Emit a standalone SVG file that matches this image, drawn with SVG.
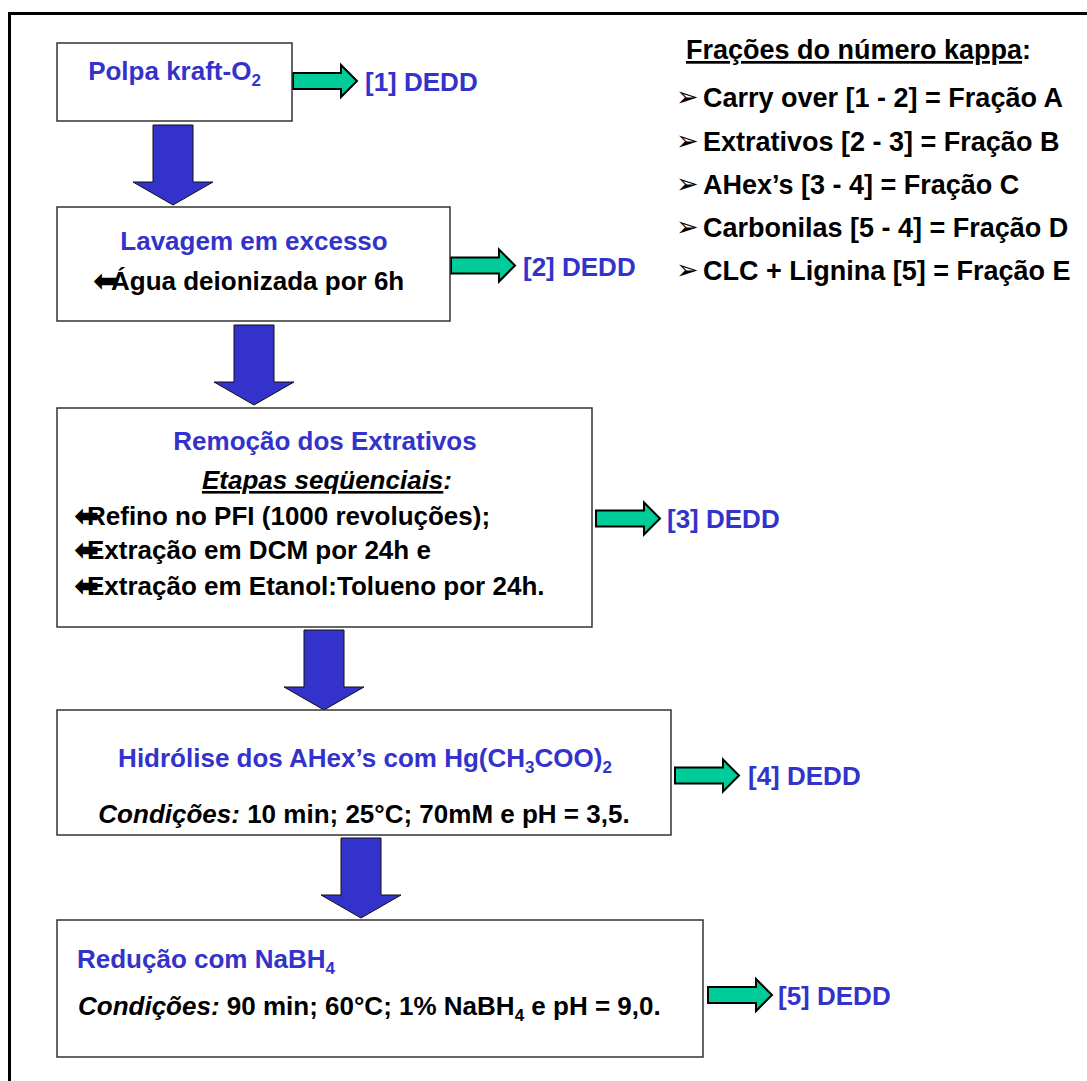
<svg xmlns="http://www.w3.org/2000/svg" xmlns:xlink="http://www.w3.org/1999/xlink" width="1087" height="1081" viewBox="0 0 1087 1081">
<style>
.box{fill:#fff;stroke:#333;stroke-width:1.5}
.t{font-family:"Liberation Sans",Arial,sans-serif;font-weight:bold;font-size:26px}
.lg{font-size:27px}
.blue{fill:#3333CC}
.blk{fill:#000}
.sub{font-size:17px}
.bul{font-family:"DejaVu Sans",sans-serif;font-weight:bold;font-size:30px;fill:#000}
.lb{font-family:"DejaVu Sans",sans-serif;font-size:27px;fill:#000}
.garrow{fill:#00CC99;stroke:#000;stroke-width:2;stroke-linejoin:miter}
.barrow{fill:#3333CC;stroke:#111;stroke-width:1}
</style>
<defs>
<path id="ga" d="M0,-8 H48 V-16 L64,0 L48,16 V8 H0 Z"/>
<path id="ba" d="M-20,0 H20 V57 H40 L0,80 L-40,57 H-20 Z"/>
</defs>
<rect x="9.5" y="13.5" width="1100" height="1100" fill="none" stroke="#000" stroke-width="3"/>

<g id="connectors">
<use xlink:href="#ba" class="barrow" x="173" y="125"/>
<use xlink:href="#ba" class="barrow" x="254" y="325"/>
<use xlink:href="#ba" class="barrow" x="324" y="630"/>
<use xlink:href="#ba" class="barrow" x="361" y="838"/>
<use xlink:href="#ga" class="garrow" x="293" y="81"/>
<use xlink:href="#ga" class="garrow" x="451" y="265.5"/>
<use xlink:href="#ga" class="garrow" x="596" y="518.5"/>
<use xlink:href="#ga" class="garrow" x="675" y="775.5"/>
<use xlink:href="#ga" class="garrow" x="708" y="995"/>
</g>

<g id="node-1">
<rect class="box" x="57" y="43" width="235" height="78"/>
<text class="t blue" x="174.5" y="80" text-anchor="middle">Polpa kraft-O<tspan class="sub" dy="6">2</tspan></text>
</g>

<g id="node-2">
<rect class="box" x="57" y="207" width="393" height="114"/>
<text class="t blue" x="254" y="250" text-anchor="middle">Lavagem em excesso</text>
<text class="bul" x="93" y="291">⬅</text>
<text class="t blk" x="111" y="290">Água deionizada por 6h</text>
</g>

<g id="node-3">
<rect class="box" x="57" y="408" width="535" height="219"/>
<text class="t blue" x="325" y="450" text-anchor="middle">Remoção dos Extrativos</text>
<text class="t blk" x="327" y="489" text-anchor="middle" font-style="italic"><tspan text-decoration="underline">Etapas seqüenciais</tspan>:</text>
<text class="bul" x="74" y="526">⬅</text>
<text class="t blk" x="87" y="525">Refino no PFI (1000 revoluções);</text>
<text class="bul" x="74" y="560">⬅</text>
<text class="t blk" x="87" y="559">Extração em DCM por 24h e</text>
<text class="bul" x="74" y="596">⬅</text>
<text class="t blk" x="87" y="595">Extração em Etanol:Tolueno por 24h.</text>
</g>

<g id="node-4">
<rect class="box" x="57" y="710" width="614" height="125"/>
<text class="t blue" x="365" y="767" text-anchor="middle">Hidrólise dos AHex’s com Hg(CH<tspan class="sub" dy="6">3</tspan><tspan dy="-6">COO)</tspan><tspan class="sub" dy="6">2</tspan></text>
<text class="t blk" x="364" y="823" text-anchor="middle"><tspan font-style="italic">Condições:</tspan> 10 min; 25°C; 70mM e pH = 3,5.</text>
</g>

<g id="node-5">
<rect class="box" x="57" y="920" width="646" height="137"/>
<text class="t blue" x="77" y="968">Redução com NaBH<tspan class="sub" dy="6">4</tspan></text>
<text class="t blk" x="78" y="1015"><tspan font-style="italic">Condições:</tspan> 90 min; 60°C; 1% NaBH<tspan class="sub" dy="6">4</tspan><tspan dy="-6"> e pH = 9,0.</tspan></text>
</g>

<g id="labels">
<text class="t blue" x="365" y="91">[1] DEDD</text>
<text class="t blue" x="523" y="276">[2] DEDD</text>
<text class="t blue" x="667" y="528">[3] DEDD</text>
<text class="t blue" x="748" y="785">[4] DEDD</text>
<text class="t blue" x="778" y="1005">[5] DEDD</text>
</g>

<g id="legend">
<text class="t lg blk" x="686" y="59"><tspan text-decoration="underline">Frações do número kappa</tspan>:</text>
<text class="lb" x="676" y="106">➢</text>
<text class="t lg blk" x="703" y="107">Carry over [1 - 2] = Fração A</text>
<text class="lb" x="676" y="150">➢</text>
<text class="t lg blk" x="703" y="151">Extrativos [2 - 3] = Fração B</text>
<text class="lb" x="676" y="193">➢</text>
<text class="t lg blk" x="703" y="194">AHex’s [3 - 4] = Fração C</text>
<text class="lb" x="676" y="236">➢</text>
<text class="t lg blk" x="703" y="237">Carbonilas [5 - 4] = Fração D</text>
<text class="lb" x="676" y="279">➢</text>
<text class="t lg blk" x="703" y="280">CLC + Lignina [5] = Fração E</text>
</g>
</svg>
